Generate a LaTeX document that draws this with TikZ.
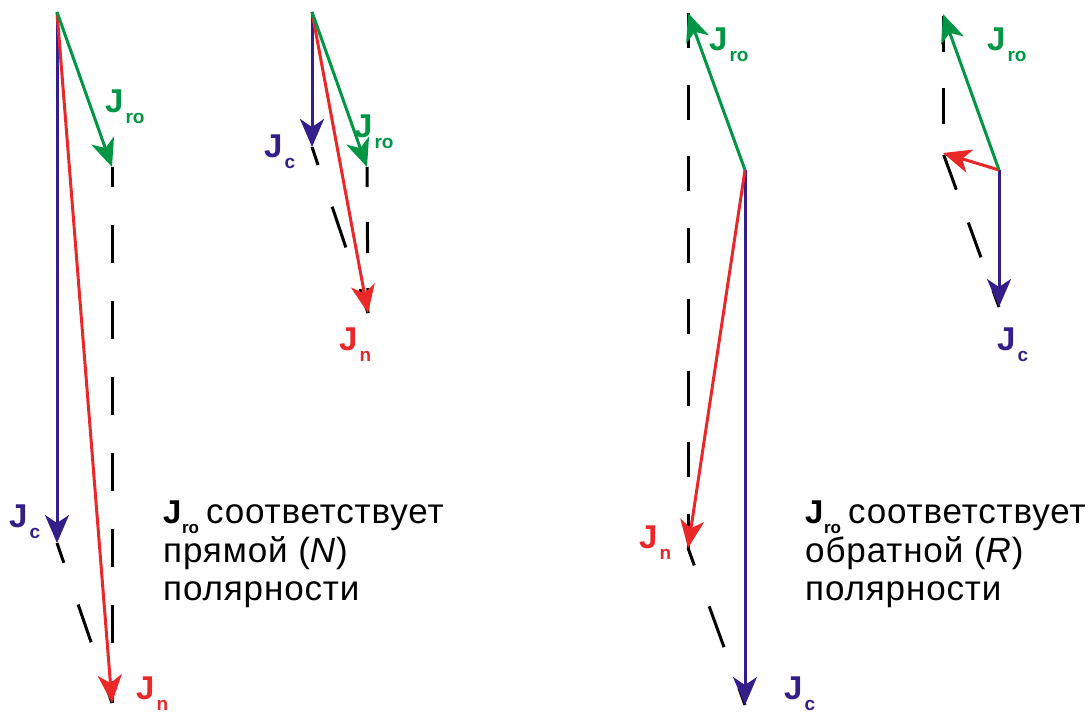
\documentclass[tikz,border=0pt]{standalone}
\usepackage{fontspec}
\setmainfont{Liberation Sans}
\usetikzlibrary{arrows.meta}
\definecolor{jgreen}{RGB}{0,150,68}
\definecolor{jblue}{RGB}{52,30,138}
\definecolor{jred}{RGB}{234,40,40}
% bold vector symbol J with a lowered index
\newcommand\jvec[1]{\textbf{J}\kern2pt\raisebox{-11pt}{\fontsize{19}{19}\selectfont\bfseries #1}}
% the same symbol inside a caption line
\newcommand\jtxt[1]{{\fontsize{33}{33}\selectfont\bfseries J}\kern0.5pt\raisebox{-10pt}{\fontsize{17}{17}\selectfont\bfseries #1}\kern7pt}
\newcommand\spaced[1]{{\addfontfeature{LetterSpace=2.5}#1}}
\tikzset{
  vec/.style={line width=3pt, -{Stealth[length=28pt,width=24pt,inset=8pt]}},
  guide/.style={line width=3pt, black},
  lab/.style={inner sep=0pt, anchor=base west, font=\fontsize{33}{33}\selectfont},
  txt/.style={inner sep=0pt, anchor=base west, font=\fontsize{35}{35}\selectfont},
}
\begin{document}
\begin{tikzpicture}[x=1pt,y=-1pt]
\useasboundingbox (0,0) rectangle (1091,713);

% ---- N polarity, large conduction current
\coordinate (o1) at (57,12);
\coordinate (c1) at (57,543);
\coordinate (r1) at (112,167);
\coordinate (n1) at (112,703);
\draw[guide, dash pattern=on 38pt off 38pt, dash phase=18pt] (r1) -- (n1);
\draw[guide, dash pattern=on 40pt off 44pt, dash phase=19pt] (c1) -- (n1);
\draw[vec, jblue] (o1) -- (c1);
\draw[vec, jred] (o1) -- (n1);
\draw[vec, jgreen] (o1) -- (r1);
\node[lab, text=jgreen] (lr1) at (105,112) {\jvec{ro}};
\node[lab, text=jblue] (lc1) at (9,527) {\jvec{c}};
\node[lab, text=jred] (ln1) at (136,699) {\jvec{n}};

% ---- N polarity, small conduction current
\coordinate (o2) at (312,12);
\coordinate (c2) at (312,147);
\coordinate (r2) at (367,167);
\coordinate (n2) at (368,313);
\draw[guide, dash pattern=on 31pt off 35pt, dash phase=11pt] (r2) -- (n2);
\draw[guide, dash pattern=on 43pt off 44pt, dash phase=24pt] (c2) -- (n2);
\draw[vec, jblue] (o2) -- (c2);
\draw[vec, jred] (o2) -- (n2);
\draw[vec, jgreen] (o2) -- (r2);
\node[lab, text=jgreen] (lr2) at (354,137) {\jvec{ro}};
\node[lab, text=jblue] (lc2) at (264,157) {\jvec{c}};
\node[lab, text=jred] (ln2) at (339,350) {\jvec{n}};

% ---- R polarity, large conduction current
\coordinate (o3) at (745,170);
\coordinate (r3) at (688,13);
\coordinate (n3) at (688,548);
\coordinate (c3) at (745,705);
\draw[guide, dash pattern=on 35pt off 36.5pt] (r3) -- (n3);
\draw[guide, dash pattern=on 43.5pt off 43.5pt, dash phase=25pt] (n3) -- (c3);
\draw[vec, jblue] (o3) -- (c3);
\draw[vec, jred] (o3) -- (n3);
\draw[vec, jgreen] (o3) -- (r3);
\node[lab, text=jgreen] (lr3) at (709,50) {\jvec{ro}};
\node[lab, text=jred] (ln3) at (639,548) {\jvec{n}};
\node[lab, text=jblue] (lc3) at (784,699) {\jvec{c}};

% ---- R polarity, small conduction current
\coordinate (o4) at (999,170);
\coordinate (r4) at (943,14);
\coordinate (n4) at (943,153);
\coordinate (c4) at (999,307);
\draw[guide, dash pattern=on 36pt off 36pt, dash phase=70pt] (r4) -- (n4);
\draw[guide, dash pattern=on 37pt off 35pt, dash phase=70pt] (n4) -- (c4);
\draw[vec, jblue] (o4) -- (c4);
\draw[vec, jred] (o4) -- (n4);
\draw[vec, jgreen] (o4) -- (r4);
\node[lab, text=jgreen] (lr4) at (987,50) {\jvec{ro}};
\node[lab, text=jblue] (lc4) at (997,350) {\jvec{c}};

% ---- captions
\node[txt] (ta1) at (163,523) {\jtxt{ro}\spaced{соответствует}};
\node[txt] (ta2) at (163,562) {\spaced{прямой (\textit{N})}};
\node[txt] (ta3) at (163,600) {\spaced{полярности}};
\node[txt] (tb1) at (805,523) {\jtxt{ro}\spaced{соответствует}};
\node[txt] (tb2) at (805,562) {\spaced{обратной (\textit{R})}};
\node[txt] (tb3) at (805,600) {\spaced{полярности}};
\end{tikzpicture}
\end{document}
